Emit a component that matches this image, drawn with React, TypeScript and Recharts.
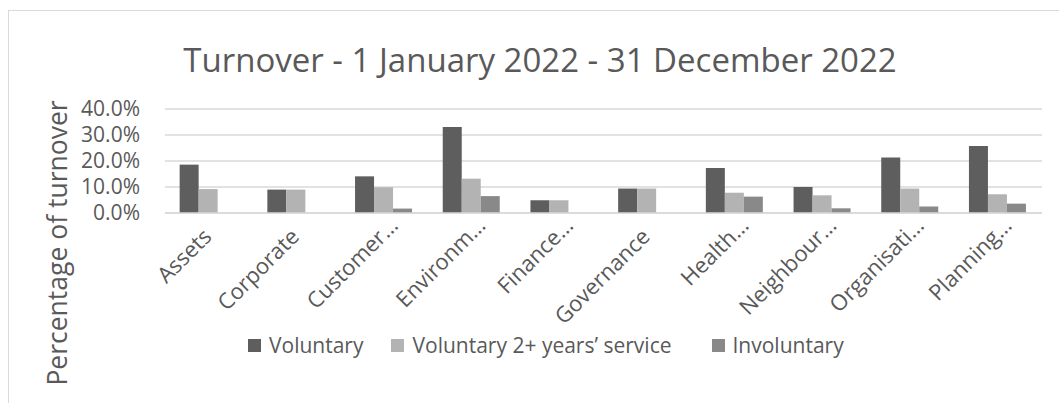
import React from 'react';
import { BarChart, Bar, XAxis, YAxis, CartesianGrid, Legend } from 'recharts';

const categories = ['Assets', 'Corporate', 'Customer…', 'Environm…', 'Finance…', 'Governance', 'Health…', 'Neighbour…', 'Organisati…', 'Planning…'];
const voluntary = [0.186, 0.090, 0.141, 0.331, 0.049, 0.094, 0.173, 0.100, 0.213, 0.258];
const voluntary2 = [0.092, 0.090, 0.099, 0.132, 0.049, 0.094, 0.078, 0.068, 0.094, 0.072];
const involuntary = [0, 0, 0.017, 0.065, 0, 0, 0.063, 0.018, 0.025, 0.036];
const yTicks = [0, 0.1, 0.2, 0.3, 0.4];
const seriesNames = ['Voluntary', 'Voluntary 2+ years’ service', 'Involuntary'];
const seriesColors = ['#5e5e5e', '#b3b3b3', '#898989'];
const title = 'Turnover - 1 January 2022 - 31 December 2022';
const yLabel = 'Percentage of turnover';

const data = categories.map((c, i) => ({
  name: c,
  v: voluntary[i],
  v2: voluntary2[i],
  inv: involuntary[i],
}));

const FONT = '"Open Sans", sans-serif';
const TEXT = '#595959';

const XTick = (props: any) => {
  const { x, y, payload } = props;
  const truncated = String(payload.value).endsWith('…');
  const dx = truncated ? 15 : 4;
  const dy = truncated ? 14 : 25;
  return (
    <g transform={`translate(${x + dx},${y + dy})`}>
      <text transform="rotate(-45)" textAnchor="end" fill={TEXT} fontSize={22} fontFamily={FONT}>
        {payload.value}
      </text>
    </g>
  );
};

const legendGaps = [28, 40, 0];

const LegendContent = () => (
  <div style={{ display: 'flex', alignItems: 'center', fontFamily: FONT, fontSize: 21, lineHeight: '28px', color: TEXT, whiteSpace: 'nowrap' }}>
    {seriesNames.map((n, i) => (
      <div key={n} style={{ display: 'flex', alignItems: 'center', marginRight: legendGaps[i] }}>
        <span style={{ display: 'inline-block', width: 13, height: 13, background: seriesColors[i], marginRight: 8 }} />
        <span>{n}</span>
      </div>
    ))}
  </div>
);

export default function App() {
  return (
    <div style={{ position: 'fixed', left: 0, top: 0, width: 1059, height: 403, overflow: 'hidden', background: '#fff' }}>
      <div style={{ position: 'absolute', left: 8, top: 10, width: 1200, height: 600, borderLeft: '1.5px solid #d9d9d9', borderTop: '1.5px solid #d9d9d9' }} />
      <div style={{ position: 'absolute', left: 0, top: 0 }}>
        <BarChart
          width={1059}
          height={403}
          data={data}
          margin={{ top: 109, right: 17, bottom: 62, left: 0 }}
          barCategoryGap="16.7%"
          barGap={0}
        >
          <CartesianGrid vertical={false} stroke="#d9d9d9" strokeWidth={1.5} />
          <XAxis
            dataKey="name"
            height={100}
            interval={0}
            tickLine={false}
            tickSize={0}
            tickMargin={0}
            axisLine={{ stroke: '#d9d9d9', strokeWidth: 1.5 }}
            tick={<XTick />}
          />
          <YAxis
            width={165}
            domain={[0, 0.4]}
            ticks={yTicks}
            interval={0}
            tickFormatter={(v: number) => (v * 100).toFixed(1) + '%'}
            axisLine={false}
            tickLine={false}
            tickSize={0}
            tickMargin={25}
            tick={{ fill: TEXT, fontSize: 21, fontFamily: FONT }}
          />
          <Legend
            content={<LegendContent />}
            wrapperStyle={{ position: 'absolute', left: 248, top: 331, width: 'auto' }}
          />
          <Bar dataKey="v" name={seriesNames[0]} fill={seriesColors[0]} isAnimationActive={false} />
          <Bar dataKey="v2" name={seriesNames[1]} fill={seriesColors[1]} isAnimationActive={false} />
          <Bar dataKey="inv" name={seriesNames[2]} fill={seriesColors[2]} isAnimationActive={false} />
        </BarChart>
      </div>
      <svg width={1059} height={403} style={{ position: 'absolute', left: 0, top: 0, pointerEvents: 'none' }}>
        <text x={540} y={72} textAnchor="middle" fontSize={33} fontFamily={FONT} fill={TEXT}>{title}</text>
        <g transform="translate(67,243)">
          <text transform="rotate(-90)" textAnchor="middle" fontSize={26.5} fontFamily={FONT} fill={TEXT}>{yLabel}</text>
        </g>
      </svg>
    </div>
  );
}
